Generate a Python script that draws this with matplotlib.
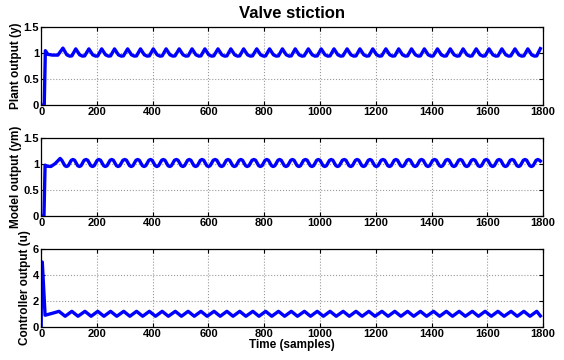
import numpy as np
import matplotlib
matplotlib.use("Agg")
import matplotlib.pyplot as plt

plt.rcParams['font.family'] = ['Liberation Sans', 'DejaVu Sans']
plt.rcParams['font.weight'] = 'bold'

# sample times of each peak
plant_peak_t = [78, 124, 171, 217, 263, 310, 356, 402, 448, 495, 541, 587, 634, 680,
                726, 773, 819, 865, 911, 958, 1004, 1050, 1097, 1143, 1189, 1236, 1282,
                1328, 1374, 1421, 1467, 1513, 1560, 1606, 1652, 1699, 1745, 1790]
model_peak_t = [68, 114, 161, 207, 253, 300, 346, 392, 438, 485, 531, 577, 624, 670,
                716, 763, 809, 855, 901, 948, 994, 1040, 1087, 1133, 1179, 1226, 1272,
                1318, 1364, 1411, 1457, 1503, 1550, 1596, 1642, 1689, 1735, 1781]
ctrl_peak_t = [64, 110, 157, 203, 249, 296, 342, 388, 434, 481, 527, 573, 620, 666,
               712, 759, 805, 851, 897, 944, 990, 1036, 1083, 1129, 1175, 1222, 1268,
               1314, 1360, 1407, 1453, 1499, 1546, 1592, 1638, 1685, 1731, 1777]

# start-up part of each signal (time, value)
plant_start_t = [0, 11, 15, 24, 40, 60]
plant_start_y = [0, 0, 1.05, 0.98, 0.965, 0.965]
model_start_t = [0, 10, 14, 22, 35, 50]
model_start_y = [0, 0, 0.98, 0.96, 0.955, 1.01]
ctrl_start_t = [0, 1, 4, 14, 28, 45]
ctrl_start_y = [0, 5.0, 5.0, 0.9, 0.98, 1.08]

# shape of one cycle after each peak (offset from peak, value)
plant_cycle_dt = [0, 14, 24, 32]
plant_cycle_y = [1.085, 0.97, 0.945, 0.95]
model_cycle_dt = [0, 6, 17, 23, 29, 40]
model_cycle_y = [1.09, 1.075, 0.97, 0.955, 0.97, 1.075]
ctrl_cycle_dt = [0, 22]
ctrl_cycle_y = [1.2, 0.82]

plant_end = (1790, 1.09)
model_end = (1790, 1.06)
ctrl_end = (1790, 0.85)


def build(start_t, start_y, peaks, dts, ys, end):
    t = list(start_t)
    y = list(start_y)
    for p in peaks:
        for d, v in zip(dts, ys):
            if p + d < end[0]:
                t.append(p + d)
                y.append(v)
    t.append(end[0])
    y.append(end[1])
    return np.array(t), np.array(y)


plant_t, plant_y = build(plant_start_t, plant_start_y, plant_peak_t,
                         plant_cycle_dt, plant_cycle_y, plant_end)
plant_y[len(plant_start_t)] = 1.10
model_t, model_y = build(model_start_t, model_start_y, model_peak_t,
                         model_cycle_dt, model_cycle_y, model_end)
model_y[len(model_start_t)] = 1.11
ctrl_t, ctrl_y = build(ctrl_start_t, ctrl_start_y, ctrl_peak_t,
                       ctrl_cycle_dt, ctrl_cycle_y, ctrl_end)

fig = plt.figure(figsize=(5.64, 3.6), dpi=100)
boxes = [[0.073, 0.708, 0.890, 0.216],
         [0.073, 0.400, 0.890, 0.216],
         [0.073, 0.092, 0.890, 0.216]]
series = [(plant_t, plant_y, "Plant output (y)", [0, 1.5], [0, 0.5, 1, 1.5], ["0", "0.5", "1", "1.5"]),
          (model_t, model_y, "Model output (ym)", [0, 1.5], [0, 0.5, 1, 1.5], ["0", "0.5", "1", "1.5"]),
          (ctrl_t, ctrl_y, "Controller output (u)", [0, 6], [0, 2, 4, 6], ["0", "2", "4", "6"])]
xt = [0, 200, 400, 600, 800, 1000, 1200, 1400, 1600, 1800]

axs = []
for box, (t, y, lab, yl, yt, ytl) in zip(boxes, series):
    ax = fig.add_axes(box)
    ax.plot(t, y, color="#0000ff", lw=2.4, solid_joinstyle="round")
    ax.set_xlim(0, 1800)
    ax.set_ylim(yl)
    ax.set_xticks(xt)
    ax.set_xticklabels([str(v) for v in xt])
    ax.set_yticks(yt)
    ax.set_yticklabels(ytl)
    ax.grid(True, linestyle=":", color="#999999", lw=0.8)
    ax.tick_params(direction="in", top=True, right=True, length=3, labelsize=8, pad=1.5)
    ax.set_ylabel(lab, fontsize=8.5, fontweight="bold", labelpad=1)
    for s in ax.spines.values():
        s.set_linewidth(0.9)
    axs.append(ax)

axs[0].set_title("Valve stiction", fontsize=12, fontweight="bold", pad=7)
axs[2].set_xlabel("Time (samples)", fontsize=8.5, fontweight="bold", labelpad=0)

fig.savefig("out.png", dpi=100)
